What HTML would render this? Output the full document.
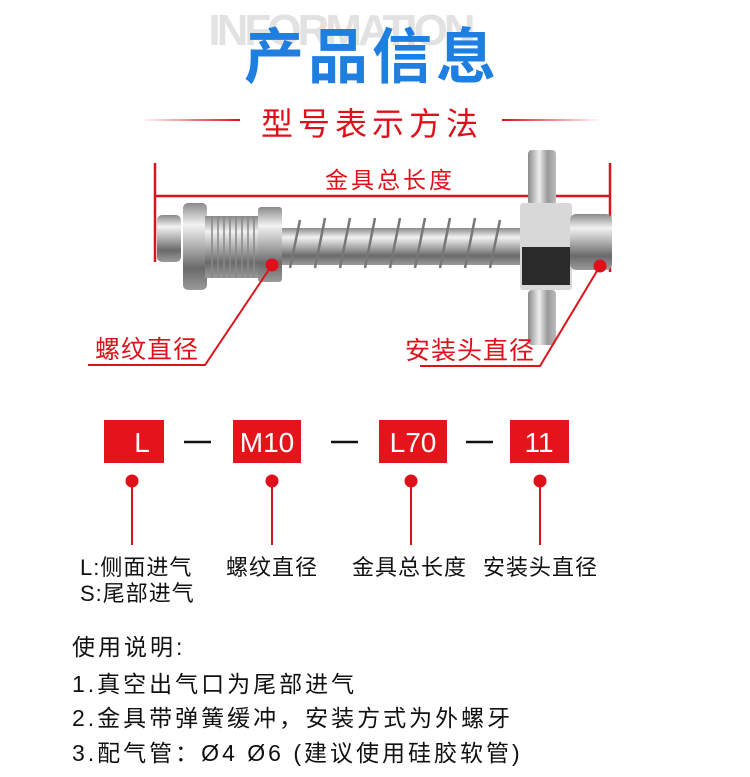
<!DOCTYPE html>
<html><head><meta charset="utf-8"><style>
body{margin:0;background:#fff;}
svg{display:block;}
text{font-family:"Liberation Sans","Noto Sans CJK SC",sans-serif;}
</style></head><body>
<svg width="750" height="777" viewBox="0 0 750 777" xmlns="http://www.w3.org/2000/svg">
<defs>
<linearGradient id="m" x1="0" y1="0" x2="0" y2="1">
<stop offset="0" stop-color="#8a8a8a"/><stop offset="0.25" stop-color="#f2f2f2"/><stop offset="0.5" stop-color="#b0b0b0"/><stop offset="0.75" stop-color="#6a6a6a"/><stop offset="1" stop-color="#9a9a9a"/></linearGradient>
<linearGradient id="mv" x1="0" y1="0" x2="1" y2="0">
<stop offset="0" stop-color="#8a8a8a"/><stop offset="0.4" stop-color="#eee"/><stop offset="0.7" stop-color="#999"/><stop offset="1" stop-color="#bbb"/></linearGradient>
<linearGradient id="ll" x1="0" x2="1"><stop offset="0" stop-color="#e0101a" stop-opacity="0"/><stop offset="1" stop-color="#e0101a"/></linearGradient>
<linearGradient id="lr" x1="0" x2="1"><stop offset="0" stop-color="#e0101a"/><stop offset="1" stop-color="#e0101a" stop-opacity="0"/></linearGradient>
</defs>
<text x="340" y="45" text-anchor="middle" font-size="44" font-weight="bold" fill="#e2e2e2" letter-spacing="-4">INFORMATION</text>
<text x="372" y="78" text-anchor="middle" font-size="60" font-weight="bold" fill="#1e7fe0" letter-spacing="4">产品信息</text>
<rect x="140" y="119" width="100" height="2" fill="url(#ll)"/>
<rect x="502" y="119" width="100" height="2" fill="url(#lr)"/>
<text x="372" y="135" text-anchor="middle" font-size="32" fill="#e0101a" letter-spacing="5">型号表示方法</text>
<g stroke="#d9141c" stroke-width="2.5" fill="none">
<line x1="155" y1="163" x2="155" y2="262"/><line x1="610" y1="163" x2="610" y2="272"/><line x1="155" y1="196" x2="610" y2="196"/>
</g>
<text x="390" y="188" text-anchor="middle" font-size="23" fill="#e0101a" letter-spacing="3">金具总长度</text>
<rect x="528" y="150" width="28" height="55" rx="4" fill="url(#mv)"/>
<rect x="528" y="290" width="28" height="55" rx="4" fill="url(#mv)"/>
<rect x="280" y="228" width="242" height="37" fill="url(#m)"/>
<g stroke="#777" stroke-width="2.5" fill="none">
<path d="M290 268 L300 220 M315 268 L325 218 M340 268 L350 218 M365 268 L375 218 M390 268 L400 218 M415 268 L425 218 M440 268 L450 218 M465 268 L475 218 M490 268 L500 220"/>
</g>
<rect x="157" y="215" width="24" height="47" rx="5" fill="url(#m)"/>
<rect x="183" y="203" width="24" height="87" rx="5" fill="url(#m)"/>
<rect x="205" y="216" width="55" height="62" fill="url(#m)"/>
<g stroke="#888" stroke-width="1.5"><path d="M212 216v62M218 216v62M224 216v62M230 216v62M236 216v62M242 216v62M248 216v62M254 216v62"/></g>
<rect x="258" y="207" width="24" height="75" rx="3" fill="url(#m)"/>
<rect x="520" y="203" width="52" height="87" rx="3" fill="#d8d8d8"/>
<rect x="522" y="247" width="48" height="38" fill="#2a2a2a"/>
<rect x="570" y="214" width="42" height="56" rx="6" fill="url(#m)"/>
<g fill="#e0101a"><circle cx="272" cy="265" r="6.5"/><circle cx="600" cy="266" r="6.5"/></g>
<g stroke="#d9141c" stroke-width="2" fill="none">
<polyline points="272,265 205,365 88,365"/><polyline points="600,266 540,366 420,366"/>
</g>
<text x="95" y="358" font-size="25" fill="#e0101a" letter-spacing="1">螺纹直径</text>
<text x="405" y="359" font-size="25" fill="#e0101a" letter-spacing="1">安装头直径</text>
<g fill="#e4141a">
<rect x="104" y="420" width="60" height="43"/><rect x="233" y="420" width="68" height="43"/><rect x="379" y="420" width="68" height="43"/><rect x="510" y="420" width="59" height="43"/>
</g>
<g fill="#fff" font-size="28" text-anchor="middle">
<text x="142" y="452">L</text><text x="267" y="452">M10</text><text x="413" y="452">L70</text><text x="539" y="452">11</text>
</g>
<g stroke="#111" stroke-width="2.5"><line x1="184" y1="442" x2="211" y2="442"/><line x1="331" y1="442" x2="358" y2="442"/><line x1="466" y1="442" x2="493" y2="442"/></g>
<g fill="#e0101a"><circle cx="132" cy="481" r="6.5"/><circle cx="272" cy="481" r="6.5"/><circle cx="411" cy="481" r="6.5"/><circle cx="540" cy="481" r="6.5"/></g>
<g stroke="#d9141c" stroke-width="2"><line x1="132" y1="481" x2="132" y2="545"/><line x1="272" y1="481" x2="272" y2="545"/><line x1="411" y1="481" x2="411" y2="545"/><line x1="540" y1="481" x2="540" y2="545"/></g>
<g font-size="22" fill="#111" letter-spacing="1">
<text x="80" y="575">L:侧面进气</text><text x="80" y="601">S:尾部进气</text>
<text x="226" y="575">螺纹直径</text><text x="352" y="575">金具总长度</text><text x="483" y="575">安装头直径</text>
</g>
<g font-size="23" fill="#111" letter-spacing="3">
<text x="72" y="655">使用说明:</text>
<text x="72" y="692">1.真空出气口为尾部进气</text>
<text x="72" y="726">2.金具带弹簧缓冲，安装方式为外螺牙</text>
<text x="72" y="761">3.配气管：Ø4  Ø6 (建议使用硅胶软管)</text>
</g>
</svg>
</body></html>
